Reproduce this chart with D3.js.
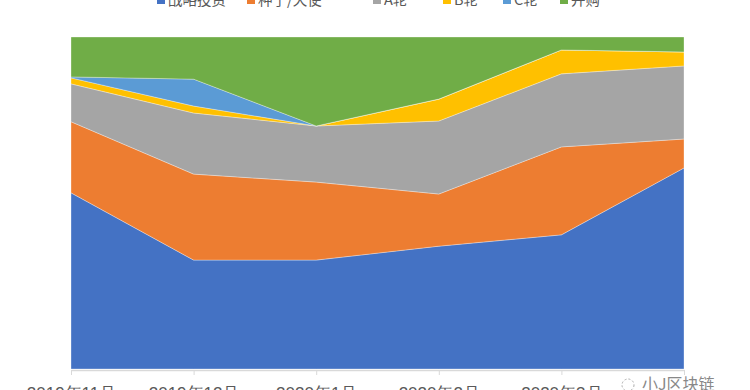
<!DOCTYPE html>
<html>
<head>
<meta charset="utf-8">
<script src="https://cdn.jsdelivr.net/npm/d3@7"></script>
<style>
  body { margin: 0; background: #fff; }
  svg { display: block; font-family: "Noto Sans CJK SC", "Noto Sans", sans-serif; }
</style>
</head>
<body>
<svg id="chart" width="750" height="390"></svg>
<script>

// months on the x axis
var months = ["2019年11月", "2019年12月", "2020年1月", "2020年2月", "2020年3月", "2020年4月"];

// share of each round type per month (%), stacked to 100
var strategic = [53.0, 32.8, 32.8, 37.0, 40.4, 60.5];
var seed      = [21.4, 25.9, 23.5, 15.7, 26.5, 8.7];
var roundA    = [11.4, 18.4, 16.9, 22.0, 22.0, 22.0];
var roundB    = [1.8, 2.1, 0.0, 6.6, 7.2, 4.2];
var roundC    = [0.3, 8.1, 0.0, 0.0, 0.0, 0.0];
var mergers   = [12.0, 12.7, 26.8, 18.7, 3.9, 4.5];

var seriesNames = ["战略投资", "种子/天使", "A轮", "B轮", "C轮", "并购"];
var seriesValues = [strategic, seed, roundA, roundB, roundC, mergers];
var colors = ["#4472c4", "#ed7d31", "#a5a5a5", "#ffc000", "#5b9bd5", "#70ad47"];

var svg = d3.select("#chart");

var margin = {left: 71, right: 66, top: 37, bottom: 21};
var width = 750 - margin.left - margin.right;
var height = 390 - margin.top - margin.bottom;

// rows for d3.stack
var rows = months.map(function(m, i) {
  var r = {month: m};
  seriesNames.forEach(function(s, j) { r[s] = seriesValues[j][i]; });
  return r;
});

var stacked = d3.stack()
  .keys(seriesNames)
  .offset(d3.stackOffsetExpand)(rows);

var x = d3.scalePoint().domain(months).range([0, width]);
var y = d3.scaleLinear().domain([0, 1]).range([height, 0]);

var g = svg.append("g")
  .attr("transform", "translate(" + margin.left + "," + margin.top + ")");

var area = d3.area()
  .x(function(d) { return x(d.data.month); })
  .y0(function(d) { return y(d[0]); })
  .y1(function(d) { return y(d[1]); });

g.selectAll("path.layer")
  .data(stacked)
  .enter()
  .append("path")
  .attr("class", "layer")
  .attr("d", area)
  .attr("fill", function(d, i) { return colors[i]; })
  .attr("stroke", "#ffffff")
  .attr("stroke-opacity", 0.45)
  .attr("stroke-width", 0.7);

// x axis
var xAxis = g.append("g")
  .attr("class", "x axis")
  .attr("transform", "translate(0," + (height + 1) + ")")
  .call(d3.axisBottom(x).tickSize(5).tickSizeOuter(0).tickPadding(12));

xAxis.select(".domain").attr("stroke", "#d9d9d9").attr("stroke-width", 1.5);
xAxis.selectAll(".tick line").attr("stroke", "#d9d9d9");
xAxis.selectAll("text")
  .attr("fill", "#595959")
  .style("font-size", "17px");

// legend, cut off at the top edge
var legendX = [157, 247, 373, 443, 503, 560];
var legend = svg.append("g").attr("class", "legend");
var items = legend.selectAll("g")
  .data(seriesNames)
  .enter()
  .append("g")
  .attr("transform", function(d, i) { return "translate(" + legendX[i] + ",0)"; });

items.append("rect")
  .attr("x", 0).attr("y", -4)
  .attr("width", 8).attr("height", 8)
  .attr("fill", function(d, i) { return colors[i]; });

items.append("text")
  .attr("x", 11).attr("y", 5)
  .attr("fill", "#595959")
  .style("font-size", "14.5px")
  .text(function(d) { return d; });

// watermark in the bottom right corner, over the last month label
var wm = svg.append("g").attr("transform", "translate(614,375)");
wm.append("rect").attr("x", 0).attr("y", 0).attr("width", 126).attr("height", 15).attr("fill", "#fff");
wm.append("circle").attr("cx", 14).attr("cy", 10).attr("r", 6)
  .attr("fill", "none").attr("stroke", "#aaa").attr("stroke-dasharray", "2,2");
wm.append("text").attr("x", 28).attr("y", 15)
  .attr("fill", "#888")
  .style("font-size", "16px")
  .text("小J区块链");

</script>
</body>
</html>
